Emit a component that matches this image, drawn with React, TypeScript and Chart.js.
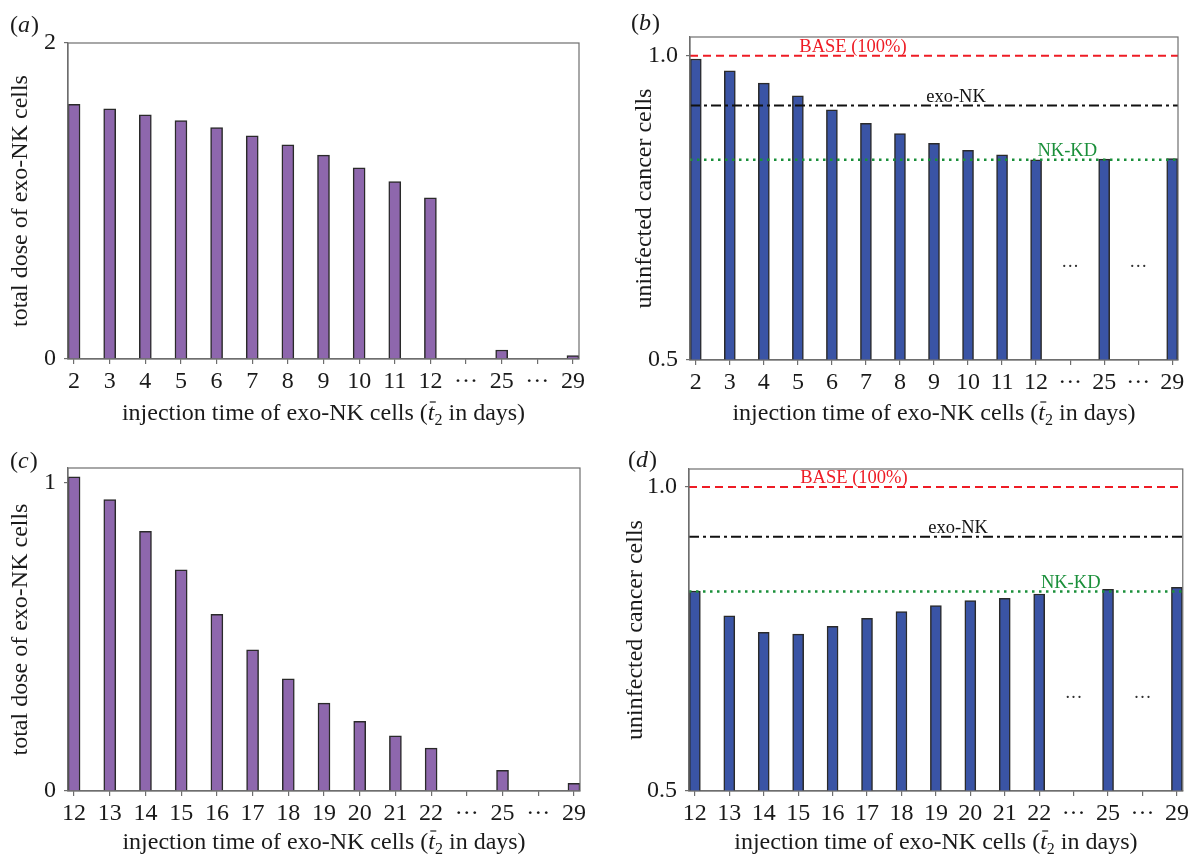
import React, { useEffect, useRef } from 'react';
import { Chart, registerables } from 'chart.js';

Chart.register(...registerables);

const SERIF = '"Liberation Serif", "Times New Roman", serif';

// ---------- data ----------
const daysAB = ['2', '3', '4', '5', '6', '7', '8', '9', '10', '11', '12', '···', '25', '···', '29'];
const daysCD = ['12', '13', '14', '15', '16', '17', '18', '19', '20', '21', '22', '···', '25', '···', '29'];

const doseA = [1.612, 1.583, 1.545, 1.509, 1.465, 1.412, 1.355, 1.29, 1.21, 1.123, 1.02, 0, 0.057, 0, 0.021];
const cellsB = [0.9945, 0.975, 0.955, 0.934, 0.911, 0.889, 0.872, 0.856, 0.8445, 0.837, 0.829, null, 0.83, null, 0.831];
const doseC = [1.018, 0.945, 0.842, 0.717, 0.573, 0.458, 0.364, 0.285, 0.226, 0.179, 0.139, 0, 0.067, 0, 0.025];
const cellsD = [0.829, 0.788, 0.761, 0.758, 0.771, 0.784, 0.795, 0.805, 0.813, 0.817, 0.824, null, 0.8315, null, 0.835];

const yTicksDose1 = [0, 2];
const yTicksDose2 = [0, 1];
const yTicksCells = [0.5, 1.0];

const baseLevel = 1.0;
const exoNKLevel = 0.918;
const nkkdLevelB = 0.829;
const nkkdLevelD = 0.828;
const ellipsisLevel = 0.652;

// ---------- styling ----------
const W = 596;
const H = 429;
const FRAME = '#6e6e6e';
const FS = 24;

type Ref = { value: number; label: string; color: string; dash: number[]; width: number; pos: number };

type PanelCfg = {
  letter: string;
  left: number;
  top: number;
  area: { l: number; t: number; r: number; b: number };
  labels: string[];
  values: (number | null)[];
  yMin: number;
  yMax: number;
  yTicks: number[];
  decimals: number;
  color: string;
  barThickness: number;
  yTitle: string;
  yTitleX: number;
  letterX: number;
  letterY: number;
  refs?: Ref[];
  innerDots?: boolean;
};

function refsFor(nk: number): Ref[] {
  return [
    { value: baseLevel, label: 'BASE (100%)', color: '#ee1c25', dash: [8, 5], width: 2, pos: 0.334 },
    { value: exoNKLevel, label: 'exo-NK', color: '#111111', dash: [10, 4, 3, 4], width: 2, pos: 0.545 },
    { value: nk, label: 'NK-KD', color: '#1a8f3a', dash: [2.5, 4.5], width: 2.5, pos: 0.773 },
  ];
}

const panels: PanelCfg[] = [
  {
    letter: 'a', left: 0, top: 0, area: { l: 68, t: 43, r: 579, b: 359 },
    labels: daysAB, values: doseA, yMin: 0, yMax: 2, yTicks: yTicksDose1, decimals: 0,
    color: '#8e67ad', barThickness: 12, yTitle: 'total dose of exo-NK cells', yTitleX: 21,
    letterX: 10, letterY: 26,
  },
  {
    letter: 'b', left: 596, top: 0, area: { l: 94, t: 37, r: 582, b: 360 },
    labels: daysAB, values: cellsB, yMin: 0.5, yMax: 1.0307, yTicks: yTicksCells, decimals: 1,
    color: '#3a54a5', barThickness: 11, yTitle: 'uninfected cancer cells', yTitleX: 49,
    letterX: 35, letterY: 24, refs: refsFor(nkkdLevelB), innerDots: true,
  },
  {
    letter: 'c', left: 0, top: 429, area: { l: 68, t: 39, r: 580, b: 362 },
    labels: daysCD, values: doseC, yMin: 0, yMax: 1.047, yTicks: yTicksDose2, decimals: 0,
    color: '#8e67ad', barThickness: 12, yTitle: 'total dose of exo-NK cells', yTitleX: 21,
    letterX: 10, letterY: 33,
  },
  {
    letter: 'd', left: 596, top: 429, area: { l: 93, t: 40, r: 589, b: 362 },
    labels: daysCD, values: cellsD, yMin: 0.5, yMax: 1.0296, yTicks: yTicksCells, decimals: 1,
    color: '#3a54a5', barThickness: 11, yTitle: 'uninfected cancer cells', yTitleX: 40,
    letterX: 32, letterY: 32, refs: refsFor(nkkdLevelD), innerDots: true,
  },
];

function decorPlugin(cfg: PanelCfg) {
  return {
    id: 'decor_' + cfg.letter,
    afterDatasetsDraw(chart: any) {
      const { ctx, chartArea: ca, scales } = chart;
      const xs = scales.x;
      const ys = scales.y;
      ctx.save();
      if (cfg.refs) {
        for (const r of cfg.refs) {
          const py = ys.getPixelForValue(r.value);
          ctx.beginPath();
          ctx.setLineDash(r.dash);
          ctx.lineWidth = r.width;
          ctx.strokeStyle = r.color;
          ctx.moveTo(ca.left, py);
          ctx.lineTo(ca.right, py);
          ctx.stroke();
          ctx.setLineDash([]);
          ctx.fillStyle = r.color;
          ctx.font = `18.5px ${SERIF}`;
          ctx.textAlign = 'center';
          ctx.textBaseline = 'alphabetic';
          ctx.fillText(r.label, ca.left + r.pos * (ca.right - ca.left), py - 4);
        }
      }
      if (cfg.innerDots) {
        ctx.fillStyle = '#333333';
        ctx.font = `18px ${SERIF}`;
        ctx.textAlign = 'center';
        ctx.textBaseline = 'middle';
        cfg.labels.forEach((lab, i) => {
          if (lab === '···') {
            ctx.fillText('···', xs.getPixelForValue(i), ys.getPixelForValue(ellipsisLevel));
          }
        });
      }
      ctx.strokeStyle = FRAME;
      ctx.lineWidth = 1.2;
      ctx.strokeRect(ca.left, ca.top, ca.right - ca.left, ca.bottom - ca.top);
      ctx.restore();
    },
    afterDraw(chart: any) {
      const { ctx, chartArea: ca } = chart;
      ctx.save();
      ctx.fillStyle = '#1a1a1a';
      ctx.textBaseline = 'alphabetic';
      ctx.textAlign = 'left';
      // x title with italic t, macron and subscript
      const normal = `${FS}px ${SERIF}`;
      const ital = `italic ${FS}px ${SERIF}`;
      const sub = `16px ${SERIF}`;
      const parts = [
        { t: 'injection time of exo-NK cells (', f: normal, dy: 0 },
        { t: 't', f: ital, dy: 0 },
        { t: '2', f: sub, dy: 5 },
        { t: ' in days)', f: normal, dy: 0 },
      ];
      let total = 0;
      const widths = parts.map((p) => {
        ctx.font = p.f;
        const w = ctx.measureText(p.t).width;
        total += w;
        return w;
      });
      const baseY = 420;
      let x = (ca.left + ca.right) / 2 - total / 2;
      parts.forEach((p, i) => {
        ctx.font = p.f;
        ctx.fillText(p.t, x, baseY + p.dy);
        if (p.t === 't') {
          ctx.beginPath();
          ctx.strokeStyle = '#1a1a1a';
          ctx.lineWidth = 1.2;
          ctx.moveTo(x + 2, baseY - 18);
          ctx.lineTo(x + 8, baseY - 18);
          ctx.stroke();
        }
        x += widths[i];
      });
      // panel letter
      ctx.textBaseline = 'middle';
      let lx = cfg.letterX;
      const lparts = [
        { t: '(', f: normal },
        { t: cfg.letter, f: ital },
        { t: ')', f: normal },
      ];
      lparts.forEach((p) => {
        ctx.font = p.f;
        ctx.fillText(p.t, lx, cfg.letterY);
        lx += ctx.measureText(p.t).width + (p.t === cfg.letter ? 1 : 0);
      });
      ctx.restore();
    },
  };
}

function Panel({ cfg }: { cfg: PanelCfg }) {
  const ref = useRef<HTMLCanvasElement | null>(null);
  useEffect(() => {
    if (!ref.current) return;
    const a = cfg.area;
    const chart = new Chart(ref.current, {
      type: 'bar',
      data: {
        datasets: [
          {
            data: cfg.values.map((v, i) => ({ x: i, y: v })) as any,
            backgroundColor: cfg.color,
            borderColor: '#2a2a2a',
            borderWidth: 1.5,
            barThickness: cfg.barThickness,
          },
        ],
      },
      options: {
        responsive: false,
        animation: false,
        devicePixelRatio: 1,
        layout: { padding: { top: a.t, right: W - a.r, left: 0, bottom: 0 } },
        plugins: { legend: { display: false }, tooltip: { enabled: false } },
        scales: {
          x: {
            type: 'linear',
            min: -0.17,
            max: 14.17,
            offset: false,
            afterBuildTicks: (s: any) => {
              s.ticks = cfg.labels.map((_, i) => ({ value: i }));
            },
            afterFit: (s: any) => {
              s.height = H - a.b;
            },
            grid: {
              display: true,
              offset: false,
              drawOnChartArea: false,
              drawTicks: true,
              tickLength: 5,
              color: FRAME,
              lineWidth: 1.2,
            },
            border: { display: true, color: FRAME, width: 1.2 },
            ticks: {
              autoSkip: false,
              maxRotation: 0,
              padding: 3,
              color: '#1a1a1a',
              font: { family: SERIF, size: FS },
              callback: (v: any) => cfg.labels[Math.round(Number(v))] ?? '',
            },
          },
          y: {
            type: 'linear',
            min: cfg.yMin,
            max: cfg.yMax,
            afterBuildTicks: (s: any) => {
              s.ticks = cfg.yTicks.map((v) => ({ value: v }));
            },
            afterFit: (s: any) => {
              s.width = a.l;
            },
            grid: {
              display: true,
              drawOnChartArea: false,
              drawTicks: true,
              tickLength: 4,
              color: FRAME,
              lineWidth: 1.2,
            },
            border: { display: true, color: FRAME, width: 1.2 },
            ticks: {
              padding: 8,
              color: '#1a1a1a',
              font: { family: SERIF, size: FS },
              callback: (v: any) => Number(v).toFixed(cfg.decimals),
            },
            title: {
              display: true,
              text: cfg.yTitle,
              color: '#1a1a1a',
              font: { family: SERIF, size: FS },
              padding: { top: cfg.yTitleX - FS * 0.6, bottom: 0 },
            },
          },
        },
      },
      plugins: [decorPlugin(cfg)],
    } as any);
    return () => chart.destroy();
  }, [cfg]);
  return (
    <canvas
      ref={ref}
      width={W}
      height={H}
      style={{ position: 'absolute', left: cfg.left, top: cfg.top, width: W, height: H }}
    />
  );
}

export default function App() {
  return (
    <div style={{ position: 'absolute', left: 0, top: 0, width: 1192, height: 858, background: '#ffffff' }}>
      {panels.map((p) => (
        <Panel key={p.letter} cfg={p} />
      ))}
    </div>
  );
}
